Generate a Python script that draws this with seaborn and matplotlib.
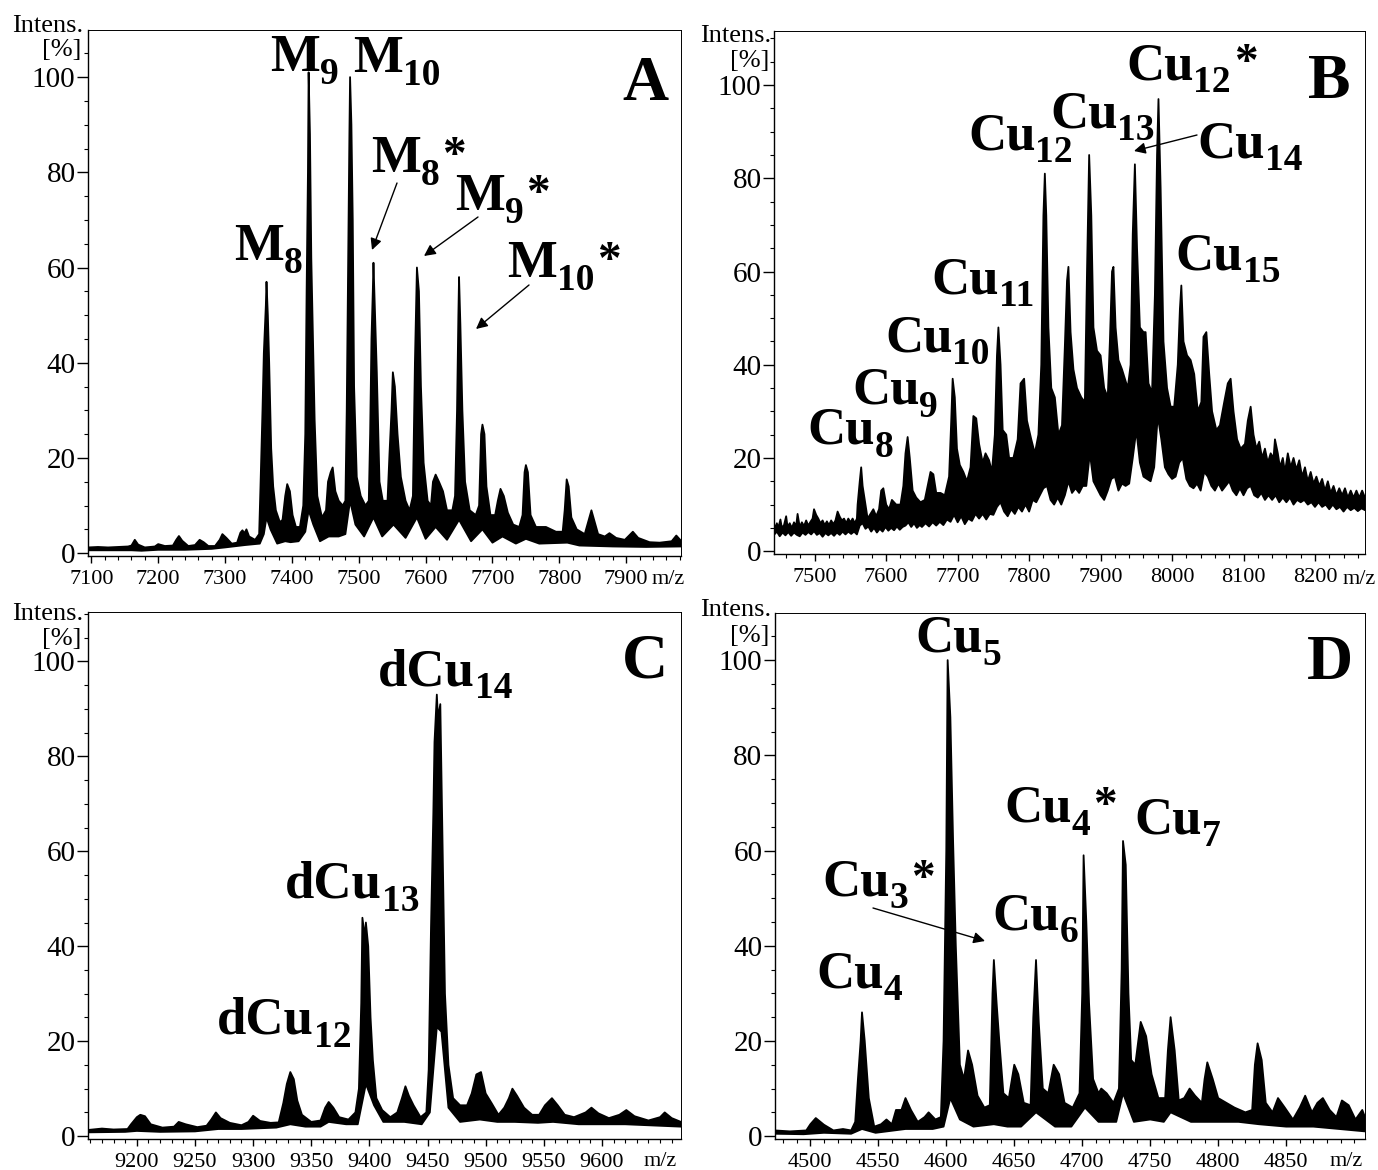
"""
Mass spectra of the four samples (panels A-D)
"""

import matplotlib
matplotlib.use("Agg")
import matplotlib.pyplot as plt
from matplotlib.patches import FancyArrowPatch
from matplotlib.ticker import MultipleLocator
import pandas as pd
import seaborn as sns

# -----------------------------
# Step 1: Spectrum envelopes (m/z, intensity)
# -----------------------------
a_upper = [(7095,1.2),(7110,1.3),(7125,1.2),(7140,1.3),(7155,1.4),(7160,1.6),(7165,2.8),(7170,1.8),(7180,1.2),(7195,1.4),
           (7200,1.9),(7210,1.5),(7222,1.6),(7227,2.8),(7231,3.6),(7236,2.6),(7245,1.5),(7255,1.7),(7262,2.8),(7268,2.3),
           (7275,1.5),(7285,1.5),(7292,2.8),(7296,4.0),(7302,3.2),(7310,2.0),(7318,2.2),(7323,4.3),(7326,4.8),(7329,4.2),
           (7332,5.0),(7336,3.5),(7345,2.8),(7351,4),(7353,14),(7356,30),(7358,42),(7361,52),(7362,57),(7364,50),
           (7366,40),(7369,22),(7372,14),(7376,9),(7382,6.5),(7386,7),(7390,12),(7393,14.5),(7397,13),(7401,8),
           (7406,5.5),(7412,5.5),(7417,10),(7420,25),(7422,55),(7424,80),(7425,101),(7427,88),(7429,62),(7431,48),
           (7434,28),(7438,12),(7445,7.5),(7451,9),(7454,15),(7458,17),(7461,18),(7465,13),(7470,11),(7476,10),
           (7480,11),(7482,30),(7484,60),(7486,88),(7487,100),(7489,90),(7491,70),(7493,35),(7497,16),(7503,12),
           (7510,10),(7515,11),(7517,25),(7519,45),(7521,55),(7522,61),(7524,52),(7527,38),(7531,15),(7536,11),
           (7543,11),(7546,21),(7549,30),(7551,38),(7554,35),(7558,25),(7563,16),(7570,11),(7576,9),(7581,12),
           (7584,40),(7587,60),(7590,55),(7593,35),(7597,19),(7603,11),(7608,10),(7611,15),(7615,16.5),(7620,15),
           (7626,13),(7632,9),(7640,9),(7644,12),(7647,30),(7649,50),(7650,58),(7652,48),(7655,30),(7659,15),
           (7666,9),(7675,8),(7680,10),(7683,25),(7685,27),(7688,25),(7691,14),(7697,8),(7704,8),(7708,11),
           (7712,13.5),(7717,12),(7723,8.5),(7731,6),(7740,5.5),(7745,8),(7748,17),(7750,18.5),(7753,17),(7757,8),
           (7765,5.5),(7780,5.5),(7795,4.5),(7805,4.5),(7808,9),(7811,15.5),(7814,14),(7818,7.5),(7826,5),(7838,4),
           (7843,6.5),(7848,9),(7852,7),(7858,4),(7868,3.5),(7875,4.2),(7885,3.2),(7898,2.8),(7905,3.8),(7910,4.5),
           (7918,3.2),(7935,2.3),(7950,2.2),(7968,2.5),(7975,3.7),(7982,2.6)]
a_lower = [(7095,0.6),(7130,0.6),(7160,0.6),(7175,0.5),(7200,0.7),(7240,0.7),(7280,0.9),(7300,1.2),(7330,1.7),(7352,2.0),
           (7358,4),(7362,7.5),(7368,5),(7378,2.0),(7390,2.5),(7398,2.3),(7410,2.5),(7420,4.5),(7425,9),(7432,6),
           (7442,2.5),(7455,3.5),(7470,3.5),(7480,4),(7487,11),(7495,6),(7508,3.5),(7522,7.5),(7535,3.5),(7552,6),
           (7570,3.2),(7587,7.5),(7600,3),(7615,5.5),(7632,2.8),(7650,7),(7668,2.5),(7685,5),(7700,2.2),(7715,3.5),
           (7735,2),(7750,3),(7770,2),(7812,2.2),(7830,1.6),(7880,1.4),(7930,1.3),(7982,1.4)]

b_upper = [(7443,6),(7445,4.8),(7447,6),(7449,5),(7452,6.8),(7454,5),(7457,5.6),(7460,7.5),(7462,5.2),(7465,6),
           (7468,5),(7471,6.2),(7474,5.4),(7476,8),(7479,5.2),(7482,6.2),(7485,5.4),(7488,6.6),(7491,5.5),(7494,6.3),
           (7497,7),(7499,9),(7502,7.8),(7505,7),(7508,6),(7511,6.6),(7514,5.6),(7517,6.4),(7520,5.6),(7523,6.6),
           (7526,5.8),(7529,6.6),(7532,8.5),(7535,7.4),(7538,6.6),(7541,7),(7544,6),(7547,7),(7550,6.2),(7553,7),
           (7556,6),(7559,7),(7560,10),(7563,15),(7565,18),(7567,14),(7570,11),(7574,7),(7578,8),(7582,9),
           (7586,7.5),(7590,9),(7593,13),(7596,13.5),(7600,10),(7604,9),(7608,11),(7614,10),(7620,10),(7624,14),
           (7627,21),(7630,24.5),(7633,20),(7637,13),(7642,11.5),(7648,10.5),(7654,11),(7658,14),(7662,17),(7666,16.5),
           (7670,12.5),(7676,12.5),(7682,12),(7688,16),(7691,28),(7693,37),(7696,33),(7699,22),(7703,18.5),(7708,17),
           (7713,15),(7718,18),(7722,29),(7726,28.5),(7730,23),(7735,19),(7739,21),(7744,19.5),(7748,17),(7752,25),
           (7755,42),(7757,48),(7760,40),(7763,26),(7768,25),(7772,20),(7778,20),(7784,24),(7788,36),(7793,37),
           (7797,28),(7803,24),(7808,21),(7813,25),(7817,40),(7820,72),(7822,81),(7824,72),(7827,48),(7831,35),
           (7836,33),(7841,25),(7846,27),(7850,44),(7853,58),(7855,61),(7858,47),(7862,39),(7867,35),(7873,33),
           (7878,32),(7881,60),(7884,85),(7887,72),(7890,48),(7895,43),(7900,42),(7905,35),(7910,33),(7913,45),
           (7916,60),(7918,61),(7921,48),(7925,41),(7930,39),(7934,37),(7938,35),(7942,40),(7945,68),(7948,83),
           (7951,65),(7955,48),(7960,47),(7963,47),(7967,36),(7972,34),(7976,55),(7979,85),(7981,97),(7984,78),
           (7988,45),(7993,35),(7998,31),(8003,31),(8008,40),(8011,52),(8013,57),(8016,45),(8021,42),(8026,41),
           (8031,38),(8036,30),(8041,32),(8044,46),(8048,47),(8052,38),(8056,30),(8062,26),(8067,27),(8073,32),
           (8078,36),(8082,37),(8086,30),(8091,24),(8096,22),(8102,23),(8106,28),(8110,31),(8114,25),(8118,22),
           (8122,23.5),(8126,20),(8130,22),(8134,19),(8138,21),(8142,20),(8144,24),(8148,21),(8151,18),(8155,20),
           (8158,17),(8162,21),(8166,18),(8170,20),(8174,17.5),(8178,19.5),(8182,16),(8186,18),(8190,15),(8194,17),
           (8198,14.5),(8202,16),(8206,14),(8210,15.5),(8214,13),(8218,15),(8222,12.5),(8226,14),(8230,12),(8234,13.5),
           (8238,12),(8242,13.5),(8246,11.5),(8250,13),(8254,11.5),(8258,13),(8262,11.5),(8266,13),(8270,11.5)]
b_lower = [(7443,3.5),(7447,4.2),(7451,3.2),(7455,4),(7459,3.4),(7463,4.1),(7467,3.3),(7471,4),(7475,3.5),(7479,3.2),
           (7483,4),(7487,3.5),(7491,4.1),(7495,3.6),(7499,4.3),(7503,3.5),(7507,3.9),(7511,3.1),(7515,3.9),(7519,3.4),
           (7523,3.9),(7527,3.3),(7531,4),(7535,3.5),(7539,4.2),(7543,3.6),(7547,4.2),(7551,3.7),(7555,4.2),(7559,3.6),
           (7563,5.5),(7567,6),(7571,4.8),(7575,5.3),(7579,4.2),(7583,5),(7587,4),(7591,4.8),(7595,4.2),(7599,5.2),
           (7603,4.4),(7607,5),(7611,4.5),(7615,5.3),(7619,4.6),(7623,5.2),(7627,5.5),(7631,6.2),(7635,5.2),(7639,6),
           (7643,5),(7647,5.6),(7650,5.2),(7655,6),(7660,5.3),(7665,6.2),(7670,5.5),(7675,6.3),(7680,5.6),(7685,6.8),
           (7690,6.3),(7695,7.8),(7700,6.2),(7705,7.5),(7710,5.8),(7715,7),(7720,6.5),(7725,8),(7730,7),(7735,8),
           (7740,6.8),(7745,8),(7750,7.8),(7755,9.5),(7760,10.5),(7765,8.5),(7770,7.5),(7775,9),(7780,8),(7785,9.5),
           (7790,8.5),(7795,10),(7800,8.5),(7805,11),(7810,10.5),(7815,12),(7820,13.5),(7825,14),(7830,11),(7835,10),
           (7840,11.5),(7845,10),(7850,12),(7855,15),(7860,12.5),(7865,13.5),(7870,12.5),(7875,14),(7880,14),(7885,21),
           (7890,15),(7895,13.5),(7900,12),(7905,11),(7910,13),(7915,15.5),(7920,16),(7925,13),(7930,14.5),(7935,14),
           (7940,14.5),(7945,20),(7950,26),(7955,19),(7960,16),(7965,15.5),(7970,15),(7975,18),(7980,29),(7985,24),
           (7990,18),(7995,16.5),(8000,15.5),(8005,16),(8010,19),(8015,20),(8020,15.5),(8025,14),(8030,13.5),(8035,14.5),
           (8040,13),(8045,17),(8050,16),(8055,14),(8060,13),(8065,14.5),(8070,13),(8075,14),(8080,15),(8085,13),
           (8090,12),(8095,13.5),(8100,12),(8105,13.5),(8110,14),(8115,12),(8120,11.5),(8125,12.5),(8130,11),(8135,12),
           (8140,11),(8145,12),(8150,10.5),(8155,11.5),(8160,10.5),(8165,11.5),(8170,10),(8175,11),(8180,10.5),(8185,11),
           (8190,10),(8195,10.5),(8200,9.5),(8205,10.5),(8210,9.5),(8215,10),(8220,9),(8225,10),(8230,9),(8235,9.5),
           (8240,8.5),(8245,9.5),(8250,8.8),(8255,9.3),(8260,8.6),(8265,9.2),(8270,8.8)]

c_upper = [(9158,1.3),(9170,1.6),(9180,1.4),(9192,1.5),(9195,2.5),(9200,4),(9203,4.5),(9207,4.2),(9212,2.5),(9222,1.8),
           (9232,2),(9236,3),(9242,2.5),(9252,1.9),(9260,2.2),(9264,3.5),(9268,5),(9272,3.8),(9280,2.8),(9290,2.3),
           (9296,3),(9300,4.3),(9306,3.2),(9315,2.8),(9322,2.9),(9326,7),(9329,11),(9332,13.5),(9335,12),(9338,7.5),
           (9342,4.5),(9350,3),(9358,3.3),(9362,6),(9365,7.2),(9369,6),(9374,4),(9382,3.5),(9388,5),(9391,10),
           (9393,28),(9394,46),(9396,42),(9397,45),(9399,40),(9401,25),(9403,16),(9406,8),(9411,5.5),(9418,4),
           (9424,5),(9428,8),(9431,10.5),(9434,8.5),(9438,6.5),(9444,4),(9449,5),(9451,14),(9453,44),(9455,68),
           (9456,83),(9458,93),(9459,88),(9461,91),(9463,60),(9465,30),(9468,15),(9472,8),(9478,6.5),(9484,6.5),
           (9488,9),(9492,13),(9496,13.5),(9500,9),(9505,7),(9511,4.5),(9516,6),(9520,8),(9523,10),(9527,8.5),
           (9533,6),(9540,4.5),(9546,4.5),(9551,6.5),(9557,8),(9562,6.5),(9568,4.5),(9576,4),(9586,5),(9591,6),
           (9597,4.8),(9606,3.8),(9615,4.5),(9621,5.5),(9628,4.2),(9640,3.3),(9650,4),(9654,5),(9660,3.8),(9668,3)]
c_lower = [(9158,0.8),(9190,0.9),(9200,1.1),(9220,0.9),(9250,1),(9270,1.5),(9290,1.5),(9320,1.8),(9332,2.5),(9345,2),
           (9358,2),(9365,3),(9380,2.5),(9390,2.5),(9397,11),(9404,6.5),(9412,3),(9430,3),(9445,2.5),(9452,5),
           (9458,23),(9462,22),(9468,6),(9478,3),(9495,3.5),(9510,3),(9525,3),(9545,2.8),(9558,3),(9580,2.5),
           (9620,2.5),(9668,2)]

d_upper = [(4474,1.2),(4485,1.0),(4497,1.2),(4500,2.5),(4504,3.8),(4510,2.4),(4517,1.2),(4524,1.5),(4530,1.2),(4533,3),
           (4535,12),(4537,20),(4538,26),(4540,20),(4543,8),(4547,2),(4552,2.5),(4556,3.5),(4560,2.5),(4563,5.5),
           (4567,5.5),(4570,8),(4574,5.5),(4579,3),(4584,4),(4587,5),(4592,3.5),(4596,4),(4598,20),(4600,60),
           (4601,100),(4603,88),(4605,62),(4607,40),(4610,15),(4613,12),(4616,18),(4619,15),(4623,8.5),(4628,6),
           (4632,6.5),(4634,30),(4635,37),(4637,28),(4639,20),(4642,9),(4646,8),(4650,15),(4653,13),(4657,7),
           (4662,6.5),(4664,25),(4666,37),(4668,24),(4671,10),(4675,9),(4679,15),(4683,13),(4687,7),(4693,6),
           (4698,9),(4700,30),(4701,59),(4703,45),(4705,28),(4708,12),(4712,9),(4714,10),(4718,9),(4723,7),
           (4727,10),(4729,35),(4730,62),(4732,57),(4734,30),(4736,16),(4739,15),(4743,24),(4747,21),(4751,13),
           (4756,8),(4761,8),(4763,18),(4765,25),(4768,18),(4771,7.5),(4775,8),(4779,10),(4783,8.5),(4788,7),
           (4790,12),(4792,15.5),(4796,12),(4800,8),(4806,7),(4812,6),(4820,5),(4825,5.5),(4827,15),(4829,19.5),
           (4832,16),(4835,7),(4840,5),(4844,8),(4849,6),(4855,3.5),(4860,6),(4864,8.5),(4869,5),(4873,7),
           (4877,8),(4882,5.5),(4887,4),(4891,7.5),(4896,6.5),(4901,3.5),(4906,5.5),(4908,4)]
d_lower = [(4474,0.5),(4495,0.4),(4510,0.7),(4530,0.5),(4538,1.5),(4548,0.7),(4570,1.5),(4590,1.5),(4598,2),(4603,8),
           (4610,3.5),(4620,2),(4635,2.5),(4645,2),(4655,2),(4666,5),(4680,2),(4692,2),(4702,6),(4712,3),
           (4725,3),(4730,9),(4738,3),(4750,3.5),(4760,3),(4765,5),(4780,3),(4800,3),(4815,3),(4830,2.5),
           (4850,2),(4870,2),(4908,1)]

# -----------------------------
# Step 2: Peak labels (name, subscript, star, left px, baseline px)
# -----------------------------
a_labels = [("M", "9", "", 270, 71), ("M", "10", "", 353, 72), ("M", "8", "*", 371, 172),
            ("M", "9", "*", 455, 210), ("M", "10", "*", 507, 277), ("M", "8", "", 234, 260)]
b_labels = [("Cu", "12", "*", 1126, 79), ("Cu", "13", "", 1050, 127), ("Cu", "12", "", 968, 149),
            ("Cu", "14", "", 1197, 157), ("Cu", "15", "", 1175, 269), ("Cu", "11", "", 931, 293),
            ("Cu", "10", "", 885, 351), ("Cu", "9", "", 852, 404), ("Cu", "8", "", 807, 444)]
c_labels = [("dCu", "14", "", 378, 685), ("dCu", "13", "", 285, 898), ("dCu", "12", "", 217, 1034)]
d_labels = [("Cu", "5", "", 915, 652), ("Cu", "4", "*", 1004, 822), ("Cu", "7", "", 1134, 833),
            ("Cu", "3", "*", 822, 895), ("Cu", "6", "", 992, 929), ("Cu", "4", "", 816, 987)]

# arrows as (from px, to px)
arrows = [((397, 183), (372, 250)), ((478, 217), (424, 256)), ((529, 285), (476, 329)),
          ((1197, 135), (1134, 151)), ((873, 908), (985, 941))]

W, H = 1378, 1170

# left, right, top, bottom px of each box, then x limits, y limits, ticks
panels = [
    dict(name="A", upper=a_upper, lower=a_lower, labels=a_labels, box=(88, 681, 30, 556), xlim=(7095, 7982),
         ylim=(-0.6, 109.9), xmajor=100, xminor=20, first=7100, last=7900,
         letter=(622, 100), intens=(12, 32), pct=(42, 56), mz=(652, 584)),
    dict(name="B", upper=b_upper, lower=b_lower, labels=b_labels, box=(774, 1365, 31, 554), xlim=(7443, 8270),
         ylim=(-0.6, 111.6), xmajor=100, xminor=20, first=7500, last=8200,
         letter=(1308, 98), intens=(700, 42), pct=(730, 67), mz=(1343, 584)),
    dict(name="C", upper=c_upper, lower=c_lower, labels=c_labels, box=(88, 681, 612, 1139), xlim=(9158, 9668),
         ylim=(-0.6, 110.4), xmajor=50, xminor=10, first=9200, last=9600,
         letter=(622, 678), intens=(12, 620), pct=(42, 645), mz=(644, 1166)),
    dict(name="D", upper=d_upper, lower=d_lower, labels=d_labels, box=(775, 1365, 613, 1139), xlim=(4474, 4908),
         ylim=(-0.6, 109.9), xmajor=50, xminor=10, first=4500, last=4850,
         letter=(1307, 679), intens=(700, 616), pct=(730, 642), mz=(1330, 1166)),
]

# -----------------------------
# Step 3: Theme
# -----------------------------
sns.set_theme(style="ticks")
plt.rcParams["font.family"] = ["Liberation Serif", "DejaVu Serif"]
plt.rcParams["text.color"] = "black"
plt.rcParams["xtick.labelcolor"] = "black"
plt.rcParams["ytick.labelcolor"] = "black"


def put_text(fig, px, py, text, **kw):
    # px, py are pixels from the top left, py is the text baseline
    return fig.text(px / W, 1 - py / H, text, ha="left", va="baseline", color="black", **kw)


def put_label(fig, name, sub, star, px, py):
    # name, then a lowered subscript, then the star, each after the last
    renderer = fig.canvas.get_renderer()
    t = put_text(fig, px, py, name, fontsize=38, fontweight="bold")
    right = t.get_window_extent(renderer).x1
    t = put_text(fig, right, py + 13, sub, fontsize=27, fontweight="bold")
    right = t.get_window_extent(renderer).x1
    if star:
        put_text(fig, right + 3, py - 4, star, fontsize=34, fontweight="bold")


# -----------------------------
# Step 4: Panels
# -----------------------------
fig = plt.figure(figsize=(W / 100, H / 100), dpi=100, facecolor="white")

for p in panels:
    left, right, top, bottom = p["box"]
    ax = fig.add_axes([left / W, 1 - bottom / H, (right - left) / W, (bottom - top) / H])

    # outline runs along the top of the trace and back along the bottom
    outline = pd.DataFrame(p["upper"] + p["lower"][::-1], columns=["mz", "intensity"])
    ax.fill(outline["mz"], outline["intensity"], color="black", lw=0)
    sns.lineplot(data=outline, x="mz", y="intensity", sort=False, estimator=None,
                 color="black", lw=1.3, solid_joinstyle="round", ax=ax)

    ax.set_xlim(p["xlim"])
    ax.set_ylim(p["ylim"])
    ax.set_xlabel("")
    ax.set_ylabel("")
    ax.set_facecolor("white")

    ax.set_xticks(range(p["first"], p["last"] + 1, p["xmajor"]))
    ax.xaxis.set_minor_locator(MultipleLocator(p["xminor"]))
    ax.set_yticks([0, 20, 40, 60, 80, 100])
    ax.yaxis.set_minor_locator(MultipleLocator(5))

    ax.tick_params(axis="x", which="major", length=5, width=1, pad=5, labelsize=16, color="black")
    ax.tick_params(axis="x", which="minor", length=3, width=0.8, color="black")
    ax.tick_params(axis="y", which="major", length=8, width=1, pad=1, labelsize=21, color="black")
    ax.tick_params(axis="y", which="minor", length=3, width=0.8, color="black")

    for side in ax.spines:
        ax.spines[side].set_linewidth(1)
        ax.spines[side].set_color("black")
    ax.spines["top"].set_linewidth(0.7)
    ax.spines["right"].set_linewidth(0.7)

    put_text(fig, *p["intens"], "Intens.", fontsize=19)
    put_text(fig, *p["pct"], "[%]", fontsize=19)
    put_text(fig, *p["mz"], "m/z", fontsize=16)
    put_text(fig, *p["letter"], p["name"], fontsize=46, fontweight="bold")
    for label in p["labels"]:
        put_label(fig, *label)

# -----------------------------
# Step 5: Arrows
# -----------------------------
for start, end in arrows:
    fig.add_artist(FancyArrowPatch(
        (start[0] / W, 1 - start[1] / H), (end[0] / W, 1 - end[1] / H),
        transform=fig.transFigure, arrowstyle="-|>", mutation_scale=17,
        color="black", lw=1, shrinkA=0, shrinkB=0))

fig.savefig("out.png", dpi=100)
